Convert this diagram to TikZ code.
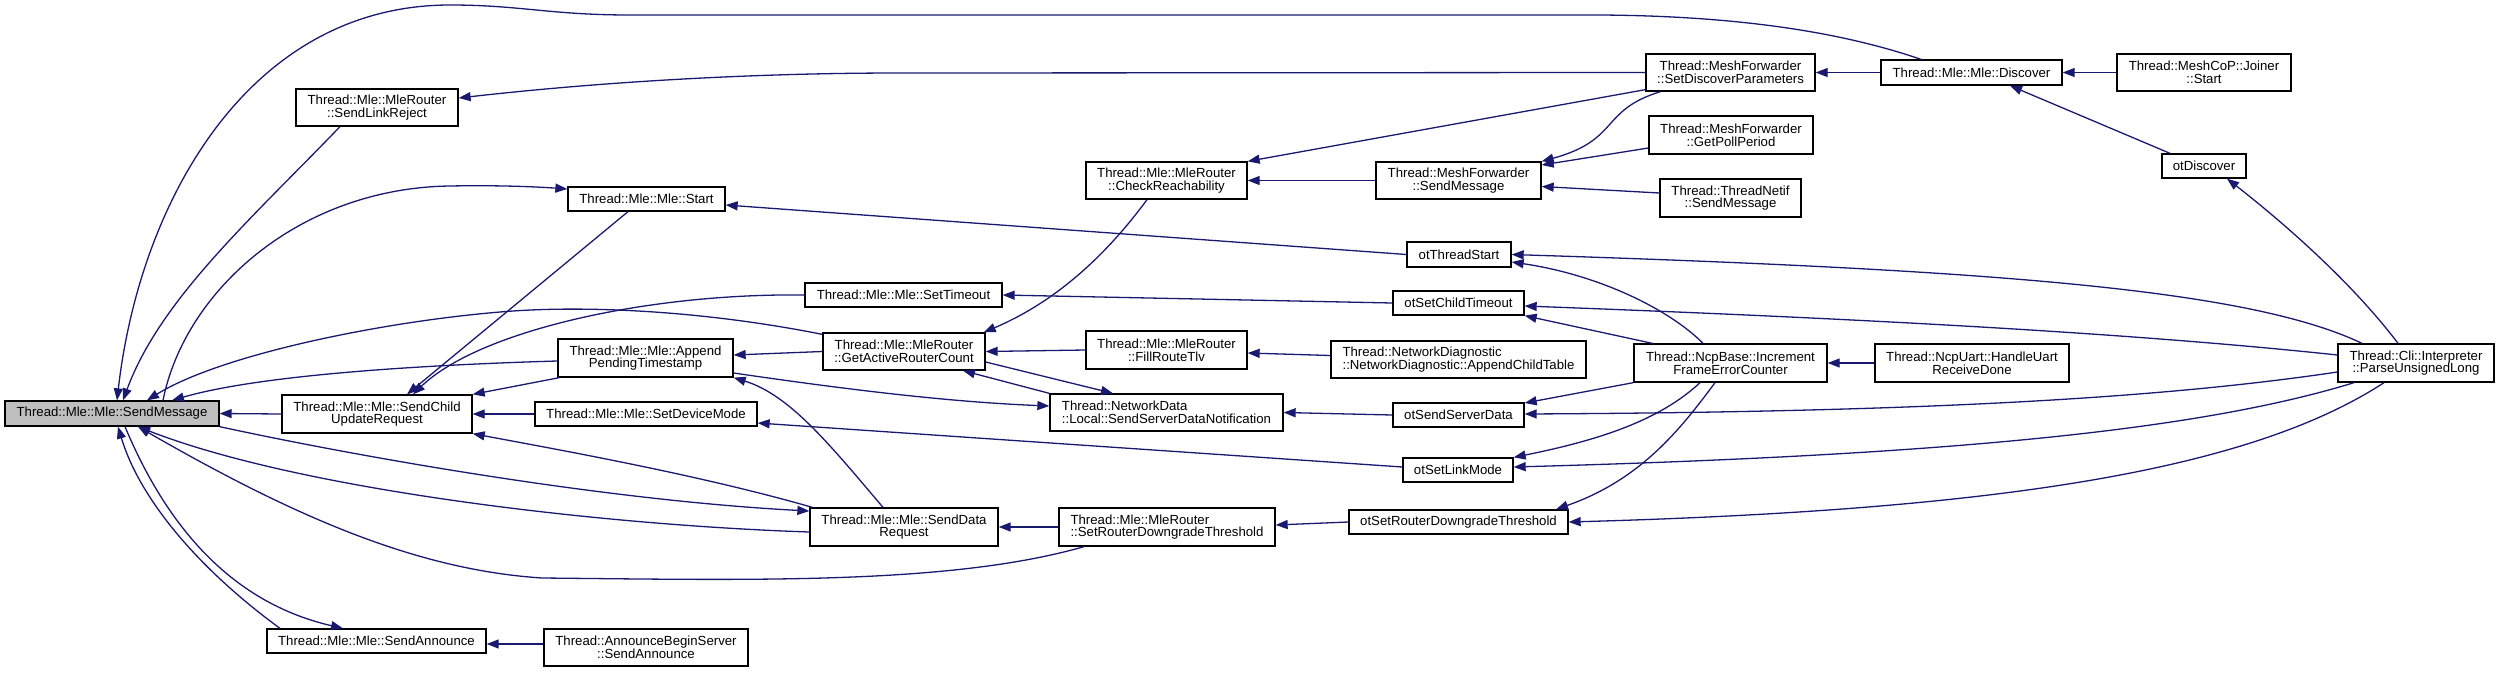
\documentclass[tikz,border=0pt]{standalone}
\usepackage{fontspec}
\newfontfamily\dox{Liberation Sans}
\usetikzlibrary{arrows.meta}
\definecolor{edgeblue}{HTML}{191970}
\definecolor{hilite}{HTML}{BFBFBF}
\begin{document}
\begin{tikzpicture}[x=1pt,y=-1pt,
  fn/.style={draw=black, line width=1.3pt, fill=white, inner sep=0pt, align=center,
    font=\dox\fontsize{13.2pt}{12.8pt}\selectfont},
  fnl/.style={fn, align=left},
  sz/.style 2 args={minimum width=#1pt, minimum height=#2pt},
  ed/.style={draw=edgeblue, line width=1.3pt, -{Triangle[length=12pt,width=9pt]}}]
\useasboundingbox (0,0) rectangle (2499,672);
% nodes
\node[fn, fill=hilite, sz={214}{25}] (sm) at (112,413.5) {Thread::Mle::Mle::SendMessage};
\node[fn, sz={162}{37}] (slr) at (377,107.5) {Thread::Mle::MleRouter\\::SendLinkReject};
\node[fn, sz={157}{24}] (start) at (646.5,199) {Thread::Mle::Mle::Start};
\node[fn, sz={190}{38}] (scur) at (377,414) {Thread::Mle::Mle::SendChild\\UpdateRequest};
\node[fn, sz={175}{38}] (apt) at (645.5,358) {Thread::Mle::Mle::Append\\PendingTimestamp};
\node[fn, sz={222}{24}] (sdm) at (646,414) {Thread::Mle::Mle::SetDeviceMode};
\node[fn, sz={219}{24}] (sa) at (376.5,641) {Thread::Mle::Mle::SendAnnounce};
\node[fn, sz={204}{37}] (abs) at (646,647.5) {Thread::AnnounceBeginServer\\::SendAnnounce};
\node[fn, sz={197}{24}] (sto) at (903.5,295) {Thread::Mle::Mle::SetTimeout};
\node[fn, sz={162}{37}] (garc) at (904,351.5) {Thread::Mle::MleRouter\\::GetActiveRouterCount};
\node[fn, sz={188}{38}] (sdr) at (904,527) {Thread::Mle::Mle::SendData\\Request};
\node[fn, sz={161}{37}] (cr) at (1166.5,180.5) {Thread::Mle::MleRouter\\::CheckReachability};
\node[fn, sz={161}{38}] (frt) at (1166.5,350) {Thread::Mle::MleRouter\\::FillRouteTlv};
\node[fnl, sz={233}{37}] (ssdn) at (1166.5,412.5) {Thread::NetworkData\\::Local::SendServerDataNotification};
\node[fnl, sz={216}{38}] (srdt) at (1167,527) {Thread::Mle::MleRouter\\::SetRouterDowngradeThreshold};
\node[fn, sz={165}{37}] (mfsm) at (1458.5,180.5) {Thread::MeshForwarder\\::SendMessage};
\node[fn, sz={104}{25}] (ots) at (1459,254.5) {otThreadStart};
\node[fn, sz={131}{24}] (osct) at (1458.5,303) {otSetChildTimeout};
\node[fnl, sz={255}{37}] (dct) at (1458.5,359.5) {Thread::NetworkDiagnostic\\::NetworkDiagnostic::AppendChildTable};
\node[fn, sz={131}{24}] (ossd) at (1458.5,415) {otSendServerData};
\node[fn, sz={110}{24}] (oslm) at (1458,470) {otSetLinkMode};
\node[fn, sz={219}{24}] (osrdt) at (1458.5,522) {otSetRouterDowngradeThreshold};
\node[fn, sz={169}{37}] (sdp) at (1730.5,72.5) {Thread::MeshForwarder\\::SetDiscoverParameters};
\node[fn, sz={164}{38}] (gpp) at (1731,135) {Thread::MeshForwarder\\::GetPollPeriod};
\node[fn, sz={141}{38}] (tn) at (1730.5,198) {Thread::ThreadNetif\\::SendMessage};
\node[fn, sz={193}{38}] (ifec) at (1730.5,363) {Thread::NcpBase::Increment\\FrameErrorCounter};
\node[fn, sz={181}{25}] (disc) at (1971.5,72.5) {Thread::Mle::Mle::Discover};
\node[fn, sz={194}{38}] (hurd) at (1972,363) {Thread::NcpUart::HandleUart\\ReceiveDone};
\node[fn, sz={174}{37}] (js) at (2204,72.5) {Thread::MeshCoP::Joiner\\::Start};
\node[fn, sz={84}{24}] (otd) at (2204,166) {otDiscover};
\node[fn, sz={156}{38}] (pul) at (2416,363) {Thread::Cli::Interpreter\\::ParseUnsignedLong};
% edges
\draw[ed] ([xshift=-50.5pt]disc.north) .. controls (1850,35) and (1750,16) .. (1600,15) -- (630,15) .. controls (550,15) and (520,5) .. (450,5) .. controls (250,5) and (140,200) .. ([xshift=5pt]sm.north);
\draw[ed] ([xshift=-37pt]slr.south) .. controls (250,220) and (160,300) .. ([xshift=11pt]sm.north);
\draw[ed] (sdp.west) -- (900,73) .. controls (750,73) and (600,82) .. ([yshift=9.5pt]slr.east);
\draw[ed] ([xshift=51pt]sm.north) .. controls (185,290) and (300,188) .. (450,186) .. controls (500,185) and (540,187) .. ([yshift=10pt]start.west);
\draw[ed] (ots.west) -- ([yshift=-6pt]start.east);
\draw[ed] ([xshift=-18.5pt]start.south) -- ([xshift=30pt]scur.north);
\draw[ed] (sto.west) .. controls (650,293) and (480,330) .. ([xshift=36pt]scur.north);
\draw[ed] (osct.west) -- (sto.east);
\draw[ed] ([yshift=-2pt]garc.north west) .. controls (700,310) and (580,305) .. (500,312) .. controls (380,322) and (220,355) .. ([xshift=35pt]sm.north);
\draw[ed] ([yshift=-3pt]apt.west) .. controls (420,365) and (260,375) .. ([xshift=60pt]sm.north);
\draw[ed] (scur.west) -- (sm.east);
\draw[ed] ([xshift=2pt]apt.south west) -- (scur.north east);
\draw[ed] (sdm.west) -- (scur.east);
\draw[ed] ([xshift=3pt]sdr.north west) .. controls (700,475) and (560,450) .. (scur.south east);
\draw[ed] (sm.south east) .. controls (350,455) and (600,500) .. ([yshift=16pt]sdr.west);
\draw[ed] ([yshift=-5pt]sdr.west) .. controls (600,525) and (300,490) .. ([xshift=26pt]sm.south);
\draw[ed] ([xshift=-83pt]srdt.south) .. controls (950,585) and (750,580) .. (542,578) .. controls (420,570) and (300,520) .. ([xshift=26pt]sm.south);
\draw[ed] ([xshift=-96.5pt]sa.north) .. controls (200,570) and (140,500) .. ([xshift=6pt]sm.south);
\draw[ed] ([xshift=13pt]sm.south) .. controls (160,510) and (220,600) .. ([xshift=-33.5pt]sa.north);
\draw[ed] ([yshift=3.5pt]abs.west) -- ([yshift=-3pt]sa.east);
\draw[ed] (garc.west) -- ([yshift=3pt]apt.east);
\draw[ed] ([xshift=-21pt]sdr.north) .. controls (830,445) and (790,395) .. (apt.south east);
\draw[ed] ([yshift=-15pt]apt.east) .. controls (850,390) and (950,402) .. ([yshift=6.5pt]ssdn.west);
\draw[ed] (ssdn.north west) -- ([xshift=59pt]garc.south);
\draw[ed] ([yshift=-10.5pt]garc.east) -- ([xshift=-53.5pt]ssdn.north);
\draw[ed] (frt.west) -- (garc.east);
\draw[ed] ([yshift=4pt]dct.west) -- ([yshift=-3pt]frt.east);
\draw[ed] ([xshift=-19.5pt]cr.south) .. controls (1110,250) and (1060,300) .. ([xshift=-2pt]garc.north east);
\draw[ed] (mfsm.west) -- (cr.east);
\draw[ed] ([yshift=2pt]sdp.south west) -- (cr.north east);
\draw[ed] ([xshift=-70pt]sdp.south) .. controls (1600,110) and (1620,140) .. (mfsm.north east);
\draw[ed] ([yshift=-13pt]gpp.west) -- ([yshift=15.5pt]mfsm.east);
\draw[ed] ([yshift=5pt]tn.west) -- ([yshift=-6pt]mfsm.east);
\draw[ed] (disc.west) -- (sdp.east);
\draw[ed] (js.west) -- (disc.east);
\draw[ed] ([xshift=-34pt]otd.north) -- ([xshift=38.5pt]disc.south);
\draw[ed] ([xshift=-18pt]pul.north) .. controls (2350,280) and (2280,220) .. ([xshift=23pt]otd.south);
\draw[ed] ([xshift=-54pt]pul.north) .. controls (2250,290) and (2000,270) .. (ots.east);
\draw[ed] ([xshift=-27.5pt]ifec.north) .. controls (1670,310) and (1600,275) .. ([yshift=-7.5pt]ots.east);
\draw[ed] ([yshift=8pt]pul.west) .. controls (2150,335) and (1900,320) .. ([yshift=-3pt]osct.east);
\draw[ed] ([xshift=19pt]ifec.north west) -- (osct.south east);
\draw[ed] (ifec.south west) -- ([yshift=12pt]ossd.east);
\draw[ed] ([yshift=-9pt]pul.west) .. controls (2150,400) and (1900,412) .. ([yshift=1pt]ossd.east);
\draw[ed] (ossd.west) -- (ssdn.east);
\draw[ed] ([xshift=-30.5pt]ifec.south) .. controls (1660,420) and (1600,440) .. (oslm.north east);
\draw[ed] ([xshift=-62pt]pul.south) .. controls (2200,430) and (1950,455) .. ([yshift=3pt]oslm.east);
\draw[ed] ([yshift=3pt]oslm.west) -- ([yshift=-9pt]sdm.east);
\draw[ed] ([xshift=-15.5pt]ifec.south) .. controls (1680,430) and (1640,480) .. ([xshift=97.5pt]osrdt.north);
\draw[ed] ([xshift=-32pt]pul.south) .. controls (2250,470) and (2000,510) .. (osrdt.east);
\draw[ed] (osrdt.west) -- ([yshift=2pt]srdt.east);
\draw[ed] (srdt.west) -- (sdr.east);
\draw[ed] (hurd.west) -- (ifec.east);
\end{tikzpicture}
\end{document}
